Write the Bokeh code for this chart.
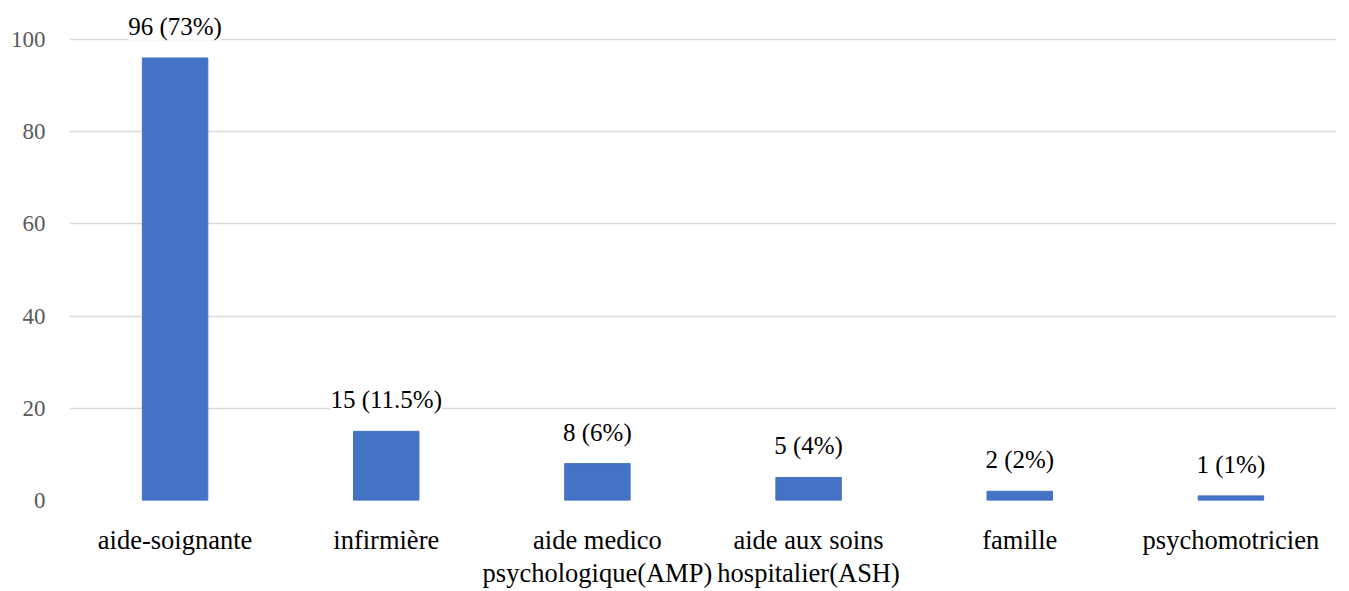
from bokeh.plotting import figure
from bokeh.models import ColumnDataSource, LabelSet, Range1d, FixedTicker
from bokeh.embed import file_html
from bokeh.resources import INLINE

categories = ["aide-soignante", "infirmière", "aide medico\npsychologique(AMP)",
              "aide aux soins\nhospitalier(ASH)", "famille", "psychomotricien"]
counts = [96, 15, 8, 5, 2, 1]
bar_labels = ["96 (73%)", "15 (11.5%)", "8 (6%)", "5 (4%)", "2 (2%)", "1 (1%)"]
y_ticks = [0, 20, 40, 60, 80, 100]

SERIF = "'Liberation Serif', 'Times New Roman', serif"

src = ColumnDataSource(dict(cat=categories, val=counts, lab=bar_labels))

# frame spans y = 0..500 px; 0 at 500 px, 100 at 39 px
p = figure(x_range=categories, y_range=Range1d(0, 108.46), width=1349, height=591,
           output_backend="svg", toolbar_location=None,
           min_border_left=69, min_border_right=13, min_border_top=0, min_border_bottom=91)
p.vbar(x="cat", top="val", width=0.31, source=src, color="#4472C4")

p.outline_line_color = None
p.xgrid.grid_line_color = None
p.ygrid.grid_line_color = "#D9D9D9"
p.ygrid.grid_line_width = 1.5
p.yaxis.ticker = FixedTicker(ticks=y_ticks)
p.yaxis.axis_line_color = None
p.yaxis.major_tick_line_color = None
p.yaxis.minor_tick_line_color = None
p.yaxis.major_tick_out = 0
p.yaxis.major_tick_in = 0
p.yaxis.major_label_text_font = SERIF
p.yaxis.major_label_text_font_size = "23px"
p.yaxis.major_label_text_color = "#595959"
p.yaxis.major_label_standoff = 24

p.xaxis.axis_line_color = None
p.xaxis.major_tick_line_color = None
p.xaxis.major_tick_out = 0
p.xaxis.major_tick_in = 0
p.xaxis.major_label_text_font = SERIF
p.xaxis.major_label_text_font_size = "26.5px"
p.xaxis.major_label_text_color = "#000000"
p.xaxis.major_label_text_line_height = 1.12
p.xaxis.major_label_standoff = 24

labels = LabelSet(x="cat", y="val", text="lab", source=src, text_align="center",
                  text_baseline="alphabetic", y_offset=23, text_font=SERIF,
                  text_font_size="25px", text_color="#000000",
                  background_fill_color="white")
p.add_layout(labels)

open("out.html", "w").write(file_html(p, INLINE))
